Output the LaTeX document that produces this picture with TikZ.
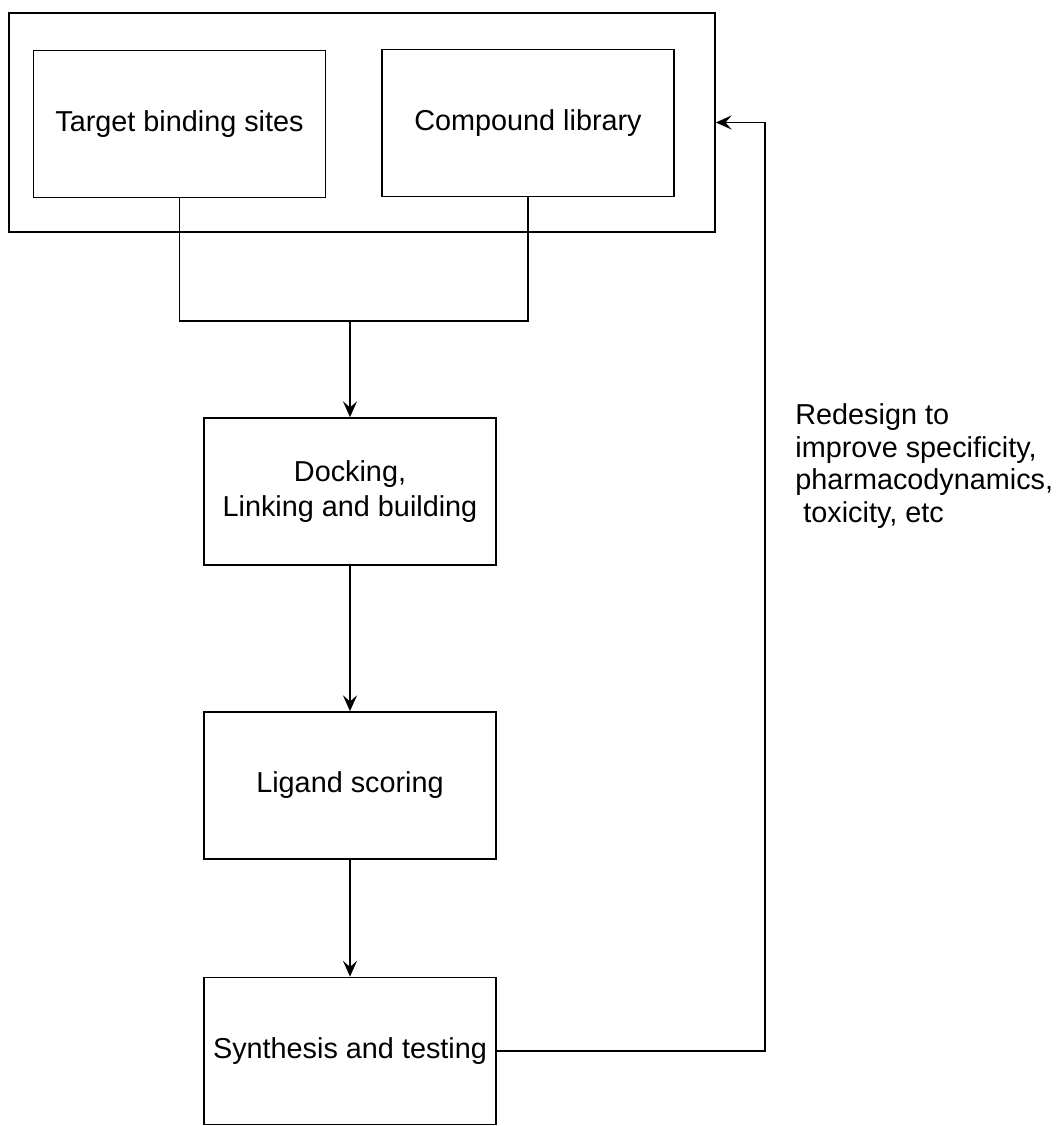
\documentclass[tikz,border=0pt]{standalone}
\usepackage{fontspec}
\setmainfont{Liberation Sans}
\usetikzlibrary{arrows.meta}

\tikzset{
  block/.style={draw,rectangle,line width=1pt,minimum width=5.84cm,minimum height=2.94cm,
    align=center,font=\fontsize{16.4}{20.4}\selectfont},
  flow/.style={line width=1pt,-{Stealth[length=9pt,width=8pt,inset=3.5pt]}},
  link/.style={line width=1pt}
}

\begin{document}
\begin{tikzpicture}[x=0.02cm,y=-0.02cm]
\useasboundingbox (0,0) rectangle (1060,1126);
\node (outer) [draw,rectangle,line width=1pt,minimum width=14.12cm,minimum height=4.38cm] at (362,122.5) {};
\node (tbs) [block] at (179.5,124) {Target binding sites};
\node (cl) [block] at (528,123) {Compound library};
\node (dock) [block] at (350,491.5) {Docking,\\Linking and building};
\node (lig) [block] at (350,785.5) {Ligand scoring};
\node (syn) [block] at (350,1051) {Synthesis and testing};
\node (why) [anchor=north west,inner sep=0pt,align=left,font=\fontsize{16.4}{18.7}\selectfont] at (795,403)
  {Redesign to\\improve specificity,\\pharmacodynamics,\\\ toxicity, etc};
\coordinate (join) at (350,321);
\coordinate (back) at (765,0);
\draw [link] (tbs.south) |- (join) -| (cl.south);
\draw [flow] (join) -- (dock);
\draw [flow] (dock) -- (lig);
\draw [flow] (lig) -- (syn);
\draw [flow] (syn.east) -- (syn.east -| back) |- (outer.east);
\end{tikzpicture}
\end{document}
